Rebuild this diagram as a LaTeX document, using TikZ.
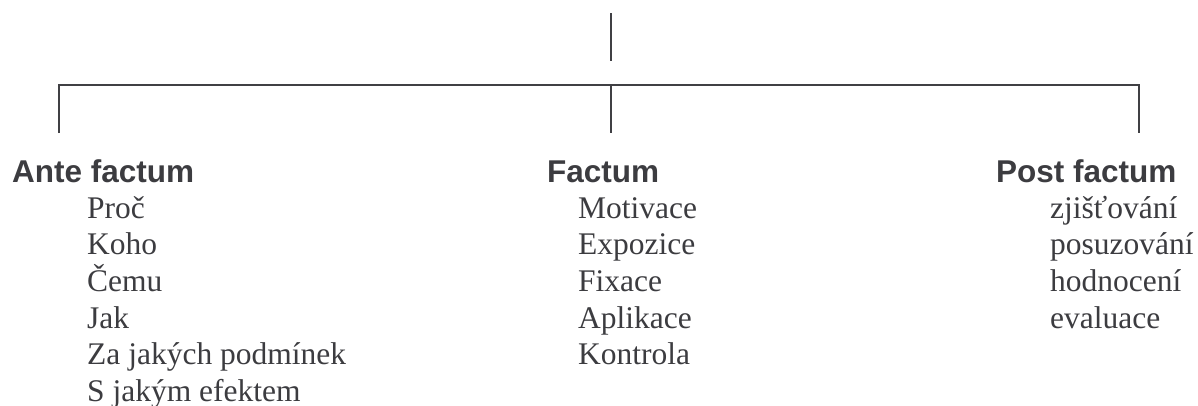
\documentclass[tikz,border=0pt]{standalone}
\usepackage{fontspec}
\setmainfont{Liberation Serif}
\newfontfamily\headfont{Liberation Sans}
\definecolor{ink}{RGB}{60,60,64}
\definecolor{linec}{RGB}{64,64,68}
\begin{document}
\begin{tikzpicture}[x=1pt,y=-1pt,
  head/.style={anchor=base west,inner sep=0pt,text=ink,font=\headfont\bfseries\fontsize{31.5}{36}\selectfont},
  item/.style={anchor=base west,inner sep=0pt,text=ink,font=\fontsize{31.5}{36}\selectfont},
  conn/.style={draw=linec,line width=2pt}]
\useasboundingbox (0,0) rectangle (1198,405);
\clip (0,0) rectangle (1198,405);
% connectors
\coordinate (top) at (611,13);
\coordinate (topend) at (611,61);
\coordinate (bl) at (59,85);
\coordinate (bc) at (611,85);
\coordinate (br) at (1139,85);
\coordinate (dl) at (59,133);
\coordinate (dc) at (611,133);
\coordinate (dr) at (1139,133);
\draw[conn] (top) -- (topend);
\draw[conn] (dl) -- (bl) -- (br) -- (dr);
\draw[conn] (bc) -- (dc);
% headings
\node[head] (ante) at (12,182) {Ante factum};
\node[head] (fact) at (547,182) {Factum};
\node[head] (post) at (996,182) {Post factum};
% Ante factum items
\node[item] (a1) at (87,218) {Proč};
\node[item] (a2) at (87,254.7) {Koho};
\node[item] (a3) at (87,291.4) {Čemu};
\node[item] (a4) at (87,328.1) {Jak};
\node[item] (a5) at (87,364.8) {Za jakých podmínek};
\node[item] (a6) at (87,401.5) {S jakým efektem};
% Factum items
\node[item] (f1) at (578,218) {Motivace};
\node[item] (f2) at (578,254.7) {Expozice};
\node[item] (f3) at (578,291.4) {Fixace};
\node[item] (f4) at (578,328.1) {Aplikace};
\node[item] (f5) at (578,364.8) {Kontrola};
% Post factum items
\node[item] (p1) at (1050,218) {zjišťování};
\node[item] (p2) at (1050,254.7) {posuzování};
\node[item] (p3) at (1050,291.4) {hodnocení};
\node[item] (p4) at (1050,328.1) {evaluace};
\end{tikzpicture}
\end{document}
